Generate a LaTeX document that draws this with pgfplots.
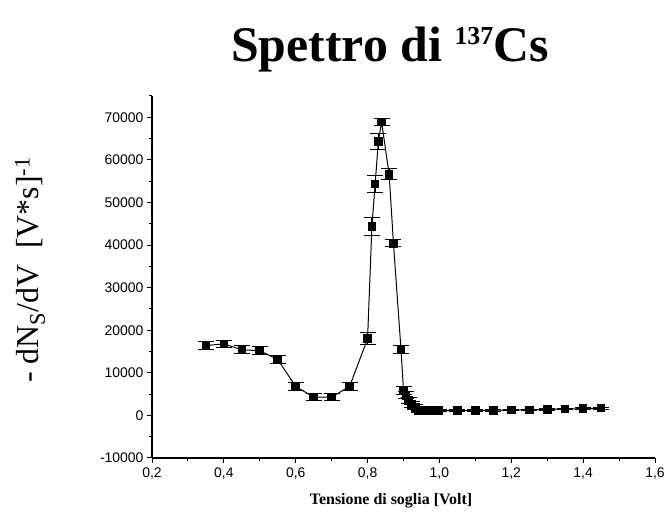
\documentclass[border=0pt]{standalone}
\usepackage{fontspec}
\setmainfont{Liberation Serif}
\setsansfont{Liberation Sans}
\usepackage{pgfplots}
\usepackage{pgfplotstable}
\pgfplotsset{compat=1.18}

\pgfplotstableread{
x y e
0.35 16400 900
0.40 16800 900
0.45 15400 900
0.50 15200 900
0.55 13100 900
0.60 6800 900
0.65 4300 800
0.70 4300 800
0.75 6800 900
0.80 18000 1400
0.812 44300 2100
0.821 54300 2000
0.830 64300 1900
0.839 68900 800
0.860 56600 1300
0.872 40400 800
0.893 15500 900
0.900 5900 900
0.907 4700 800
0.914 3500 800
0.923 2600 700
0.933 1900 600
0.942 1100 500
0.956 1100 400
0.970 1200 300
0.984 1200 300
0.998 1200 300
1.05 1100 200
1.10 1200 200
1.15 1200 200
1.20 1300 200
1.25 1300 200
1.30 1400 200
1.35 1500 200
1.40 1600 200
1.45 1700 200
}\spectrum

\begin{document}
\begin{tikzpicture}[x=1bp,y=1bp]
\useasboundingbox (0,0) rectangle (667,521);
\begin{axis}[
  at={(152bp,63bp)}, anchor=south west,
  scale only axis, width=503bp, height=362bp,
  xmin=0.2, xmax=1.6, ymin=-10000, ymax=75000,
  axis lines=left,
  axis line style={-, line width=1.1pt},
  xtick={0.2,0.4,0.6,0.8,1.0,1.2,1.4,1.6},
  minor xtick={0.3,0.5,0.7,0.9,1.1,1.3,1.5},
  ytick={-10000,0,10000,20000,30000,40000,50000,60000,70000},
  minor ytick={-5000,5000,15000,25000,35000,45000,55000,65000,75000},
  tick align=outside,
  major tick length=5bp, minor tick length=3bp,
  every tick/.style={black, line width=1pt},
  tick label style={font=\sffamily\fontsize{14}{14}\selectfont},
  xticklabel style={yshift=-1bp},
  /pgf/number format/assume math mode=true,
  xticklabel style={/pgf/number format/.cd, use comma, fixed, fixed zerofill, precision=1},
  yticklabel style={/pgf/number format/.cd, fixed, 1000 sep={}},
  scaled y ticks=false,
  clip=false,
]
\addplot[black, line width=1pt, mark=square*, mark size=3.8bp,
  mark options={solid, fill=black},
  error bars/.cd, y dir=both, y explicit,
  error bar style={line width=1pt, black},
  error mark options={rotate=90, mark size=8bp, line width=1pt, black}]
  table[x=x, y=y, y error=e] {\spectrum};
\end{axis}
\node[anchor=base, font=\bfseries\fontsize{50}{50}\selectfont] at (390,459)
  {Spettro di \raisebox{17bp}{\fontsize{26}{26}\selectfont 137}Cs};
\node[anchor=base, font=\bfseries\fontsize{16}{16}\selectfont] at (391,16)
  {Tensione di soglia [Volt]};
\node[rotate=90, font=\fontsize{32}{32}\selectfont] at (30,251)
  {- dN\textsubscript{S}/dV\ \ [V*s]\textsuperscript{-1}};
\end{tikzpicture}
\end{document}
